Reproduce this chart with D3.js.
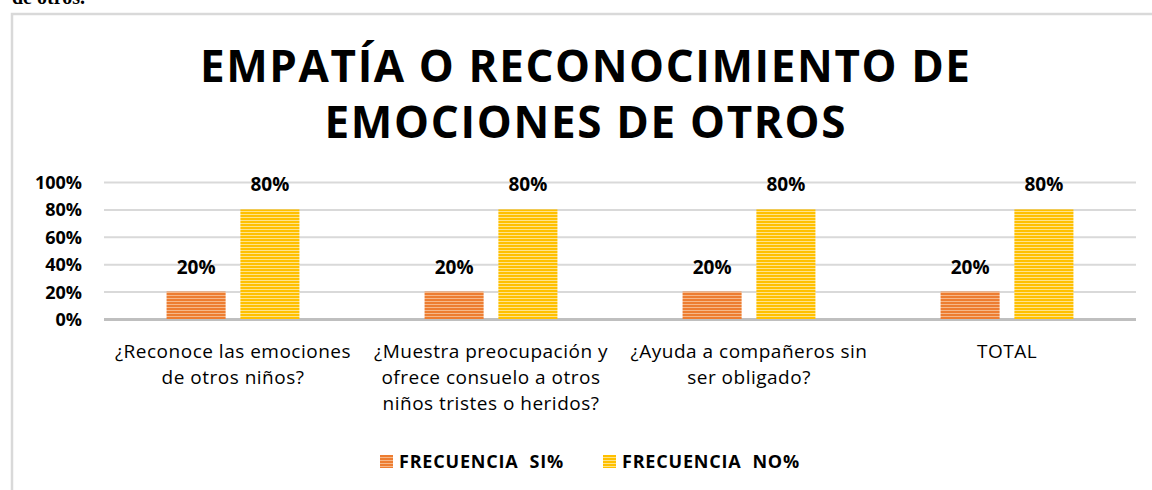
<!DOCTYPE html>
<html>
<head>
<meta charset="utf-8">
<script src="https://cdn.jsdelivr.net/npm/d3@7"></script>
<style>
  body { margin: 0; background: #ffffff; }
  svg { display: block; }
</style>
</head>
<body>
<div class="empatia_chart"></div>
<script>
// Chart data
var categories = ["c1", "c2", "c3", "c4"];
var categoryLines = [
  ["¿Reconoce las emociones", "de otros niños?"],
  ["¿Muestra preocupación y", "ofrece consuelo a otros", "niños tristes o heridos?"],
  ["¿Ayuda a compañeros sin", "ser obligado?"],
  ["TOTAL"]
];
var seriesKeys = ["si", "no"];
var seriesNames = ["FRECUENCIA  SI%", "FRECUENCIA  NO%"];
var siValues = [20, 20, 20, 20];
var noValues = [80, 80, 80, 80];
var yTicks = [0, 20, 40, 60, 80, 100];
var titleLines = ["EMPATÍA O RECONOCIMIENTO DE", "EMOCIONES DE OTROS"];

var W = 1152, H = 490;
var margin = {top: 182, right: 16, bottom: 171, left: 104},
width = W - margin.left - margin.right,
height = H - margin.top - margin.bottom;

var font = "'Open Sans', Lato, sans-serif";

var svg = d3.select(".empatia_chart")
  .append("svg")
  .attr("width", W)
  .attr("height", H);

// Stripe patterns for the bars
var defs = svg.append("defs");
function stripes(id, base, light) {
  var p = defs.append("pattern")
    .attr("id", id)
    .attr("patternUnits", "userSpaceOnUse")
    .attr("width", 8)
    .attr("height", 3);
  p.append("rect").attr("width", 8).attr("height", 3).attr("fill", base);
  p.append("rect").attr("y", 2).attr("width", 8).attr("height", 1).attr("fill", light);
}
stripes("stripe-si", "#ED7D31", "#F6B889");
stripes("stripe-no", "#FFC000", "#FFE38A");

// Leftover document text above the chart
svg.append("text")
  .attr("x", 12)
  .attr("y", 4)
  .style("font", "bold 20px 'Liberation Serif', serif")
  .attr("fill", "#000")
  .text("de otros.");

// Chart frame
svg.append("path")
  .attr("d", "M12," + H + "V14H" + W)
  .attr("fill", "none")
  .attr("stroke", "#d9d9d9")
  .attr("stroke-width", 2.5);

// Title
var titleWidths = [770, 521];
svg.append("g")
  .selectAll("text")
  .data(titleLines)
  .enter().append("text")
  .attr("x", 585)
  .attr("y", (d, i) => 82 + i * 56)
  .attr("text-anchor", "middle")
  .attr("textLength", (d, i) => titleWidths[i])
  .attr("lengthAdjust", "spacing")
  .style("font", "bold 44px " + font)
  .attr("fill", "#000")
  .text(d => d);

var g = svg.append("g")
  .attr("transform", "translate(" + margin.left + "," + margin.top + ")");

var y = d3.scaleLinear()
  .domain([0, 100])
  .range([height, 0]);

// Gridlines and y labels
g.append("g")
  .call(d3.axisLeft(y).tickValues(yTicks).tickSize(0).tickFormat(d => d + "%"))
  .call(a => a.select(".domain").remove())
  .call(a => a.selectAll(".tick line").clone()
    .attr("x2", width)
    .attr("stroke", d => d === 0 ? "#bfbfbf" : "#d9d9d9")
    .attr("stroke-width", d => d === 0 ? 3 : 2))
  .call(a => a.selectAll(".tick text")
    .attr("x", -22)
    .attr("dy", "0.36em")
    .attr("fill", "#000")
    .style("font", "bold 18px " + font));

var x0 = d3.scaleBand()
  .domain(categories)
  .range([0, width])
  .paddingInner(0.485)
  .paddingOuter(0.2425);

var x1 = d3.scaleBand()
  .domain(seriesKeys)
  .range([0, x0.bandwidth()])
  .paddingInner(0.2);

var color = {si: "url(#stripe-si)", no: "url(#stripe-no)"};

var rows = categories.map((c, i) => ({cat: c, si: siValues[i], no: noValues[i]}));

var groups = g.selectAll(".bar")
  .data(rows)
  .enter().append("g")
  .attr("class", "bar")
  .attr("transform", d => "translate(" + x0(d.cat) + ",0)");

groups.selectAll("rect")
  .data(d => seriesKeys.map(k => ({key: k, value: d[k]})))
  .enter().append("rect")
  .attr("x", d => x1(d.key))
  .attr("y", d => y(d.value))
  .attr("width", x1.bandwidth())
  .attr("height", d => y(0) - y(d.value))
  .attr("fill", d => color[d.key]);

groups.selectAll("text")
  .data(d => seriesKeys.map(k => ({key: k, value: d[k]})))
  .enter().append("text")
  .attr("x", d => x1(d.key) + x1.bandwidth() / 2)
  .attr("y", d => y(d.value) - 18)
  .attr("text-anchor", "middle")
  .style("font", "bold 19px " + font)
  .attr("fill", "#000")
  .text(d => d.value + "%");

// X category labels
var xLab = g.append("g")
  .selectAll("text")
  .data(categories)
  .enter().append("text")
  .attr("transform", d => "translate(" + (x0(d) + x0.bandwidth() / 2) + "," + (height + 39) + ")")
  .attr("text-anchor", "middle")
  .style("font", "19px " + font)
  .style("letter-spacing", "0.5px")
  .attr("fill", "#000");

xLab.selectAll("tspan")
  .data((d, i) => categoryLines[i])
  .enter().append("tspan")
  .attr("x", 0)
  .attr("y", (d, i) => i * 26)
  .text(d => d);

// Legend
var legend = svg.append("g")
  .selectAll("g")
  .data(seriesKeys)
  .enter().append("g")
  .attr("transform", (d, i) => "translate(" + (380 + i * 223) + ",455)");

legend.append("rect")
  .attr("width", 13)
  .attr("height", 13)
  .attr("fill", d => color[d]);

legend.append("text")
  .attr("x", 19)
  .attr("y", 13)
  .style("font", "bold 18px " + font)
  .style("letter-spacing", "0.8px")
  .style("white-space", "pre")
  .attr("fill", "#000")
  .text((d, i) => seriesNames[i]);
</script>
</body>
</html>
